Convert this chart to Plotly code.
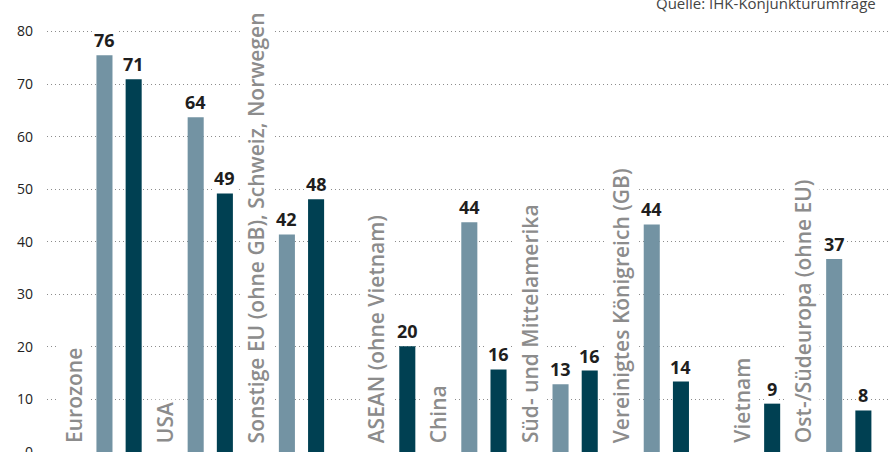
import plotly.graph_objects as go

categories = [
    "Eurozone",
    "USA",
    "Sonstige EU (ohne GB), Schweiz, Norwegen",
    "ASEAN (ohne Vietnam)",
    "China",
    "Süd- und Mittelamerika",
    "Vereinigtes Königreich (GB)",
    "Vietnam",
    "Ost-/Südeuropa (ohne EU)",
]
light_values = [75.5, 63.7, 41.4, None, 43.7, 12.9, 43.3, None, 36.7]
dark_values = [70.9, 49.2, 48.1, 20.1, 15.7, 15.5, 13.4, 9.2, 7.9]
light_labels = ["76", "64", "42", "", "44", "13", "44", "", "37"]
dark_labels = ["71", "49", "48", "20", "16", "16", "14", "9", "8"]
y_ticks = [0, 10, 20, 30, 40, 50, 60, 70, 80]
source_text = "Quelle: IHK-Konjunkturumfrage"

LIGHT = "#7393a3"
DARK = "#004052"
OFFSET = 0.16
BAR_W = 0.176
LABEL_GAP = 0.34

idx = list(range(len(categories)))
x_light = [i - OFFSET for i in idx]
x_dark = [i + OFFSET for i in idx]

fig = go.Figure()
fig.add_bar(x=x_light, y=light_values, width=BAR_W, marker_color=LIGHT,
            marker_line_width=0, name="Reihe 1", hovertext=categories)
fig.add_bar(x=x_dark, y=dark_values, width=BAR_W, marker_color=DARK,
            marker_line_width=0, name="Reihe 2", hovertext=categories)

annotations = []
for i, cat in enumerate(categories):
    first_x = x_light[i] if light_values[i] is not None else x_dark[i]
    annotations.append(dict(
        x=first_x - LABEL_GAP, y=0, xref="x", yref="y", text=cat,
        textangle=-90, xanchor="center", yanchor="bottom", yshift=6,
        showarrow=False, bgcolor="white", borderpad=2,
        font=dict(family="Open Sans", size=21, color="#8c8c8c", weight=600),
    ))
    for xs, vals, labs in ((x_light, light_values, light_labels),
                           (x_dark, dark_values, dark_labels)):
        if vals[i] is not None:
            annotations.append(dict(
                x=xs[i], y=vals[i], xref="x", yref="y", text=labs[i],
                xanchor="center", yanchor="bottom", yshift=1,
                showarrow=False, bgcolor="white", borderpad=1,
                font=dict(family="Open Sans", size=18, color="#1e1e1e", weight="bold"),
            ))

annotations.append(dict(
    x=1, y=1, xref="paper", yref="paper", text=source_text,
    xanchor="right", yanchor="middle", xshift=-10, yshift=-3,
    showarrow=False, font=dict(family="Open Sans", size=15, color="#444444"),
))

fig.update_layout(
    width=890, height=452,
    margin=dict(l=47, r=2, t=0, b=0, autoexpand=False),
    plot_bgcolor="white", paper_bgcolor="white",
    barmode="overlay", showlegend=False,
    annotations=annotations,
    xaxis=dict(range=[-0.79, 8.43], showgrid=False, showticklabels=False,
               zeroline=False, showline=False, fixedrange=True, automargin=False),
    yaxis=dict(range=[0, 86], tickvals=y_ticks, showgrid=True,
               gridcolor="#8c8c8c", griddash="1px,3px", gridwidth=1,
               zeroline=False, showline=False, ticks="", automargin=False,
               ticklabelstandoff=13, ticklabeloverflow="allow",
               tickfont=dict(family="Open Sans", size=14, color="#222222")),
)

fig.write_html(
    "out.html",
    config={"displayModeBar": False},
    post_script="document.body.style.margin='0px';document.body.style.overflow='hidden';",
)
